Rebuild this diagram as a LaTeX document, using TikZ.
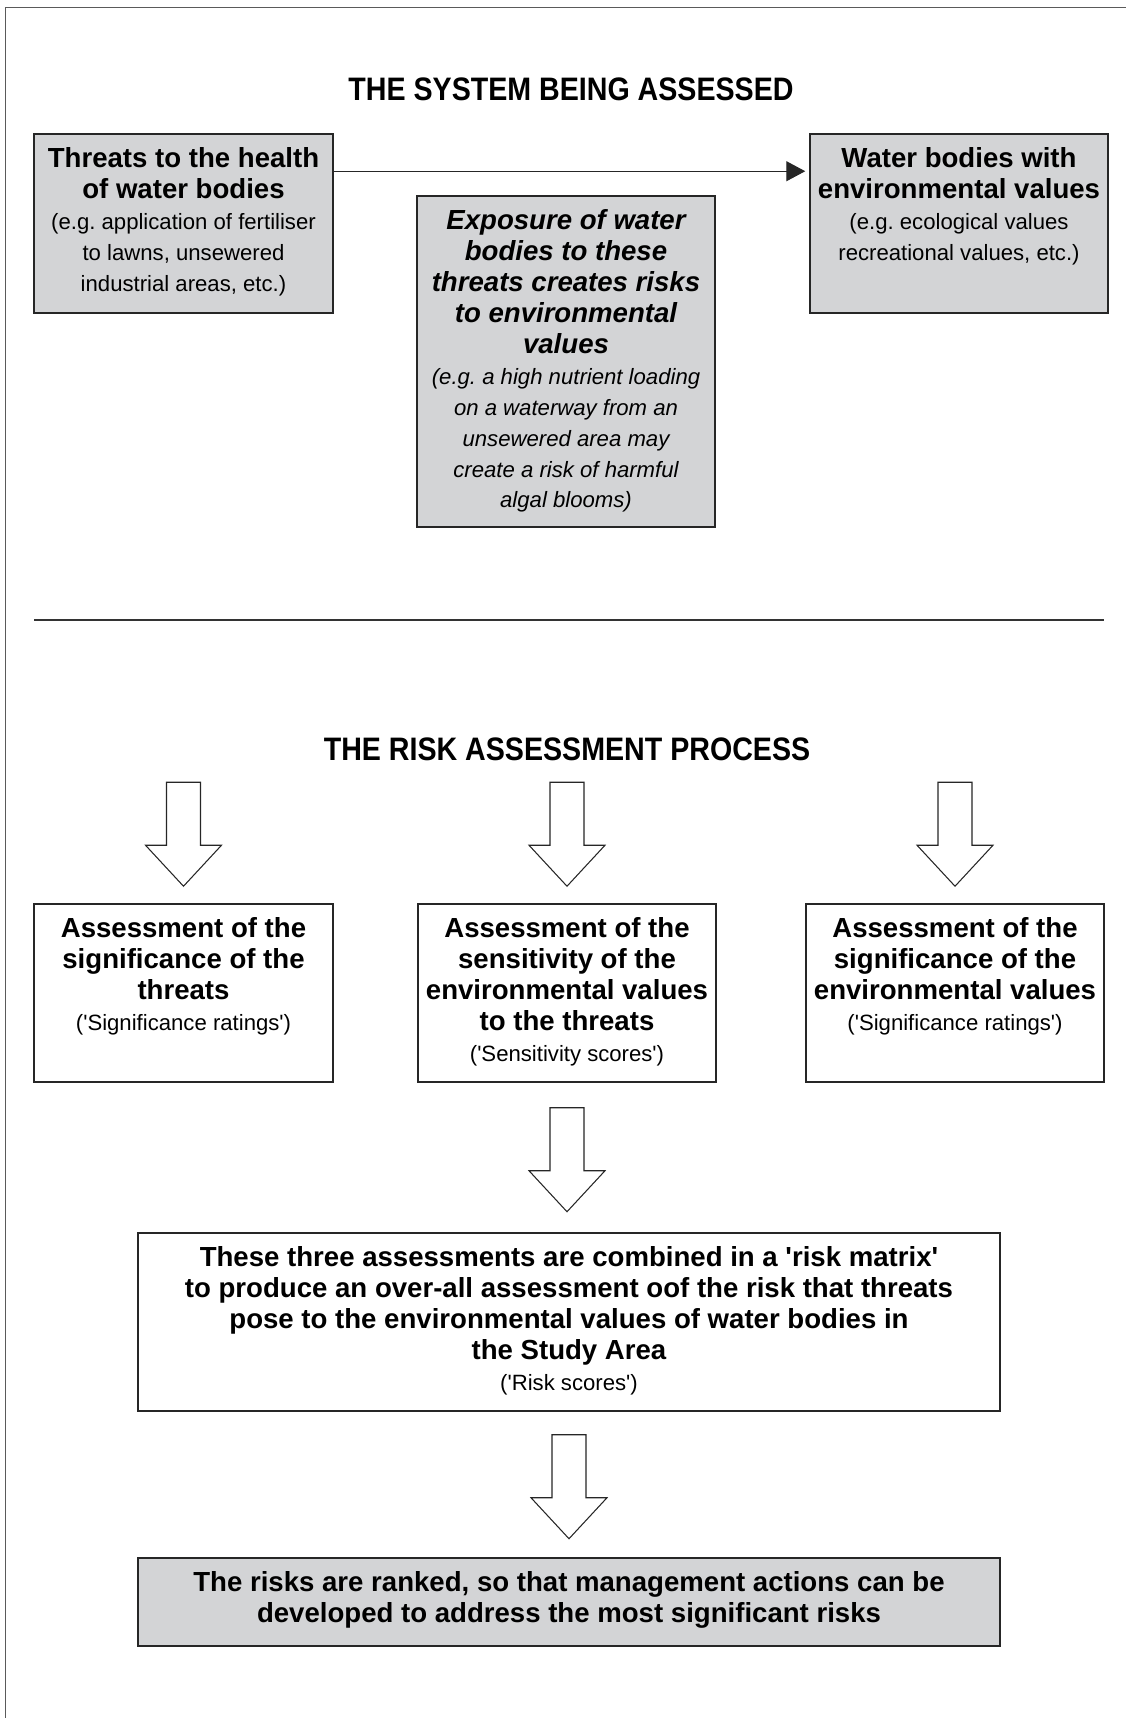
\documentclass[tikz,border=0pt]{standalone}
\usepackage{fontspec}
\setmainfont{Liberation Sans}[Ligatures=TeXOff]
\newfontfamily\headfont{Liberation Sans}[FakeStretch=0.88,Ligatures=TeXOff]
\usetikzlibrary{positioning,arrows.meta}
\frenchspacing

\definecolor{boxgray}{RGB}{211,212,214}
\definecolor{framegray}{RGB}{90,90,90}

\newcommand{\boxhead}[1]{{\fontsize{15.7}{17.6}\selectfont\bfseries #1}}
% hollow down arrow, #1 = top centre of the shaft
\newcommand{\blockarrow}[1]{%
  \draw[line width=0.6pt, draw=black!85, fill=white] #1 ++(-0.34,0) -- ++(0,-1.26) -- ++(-0.42,0)
    -- ++(0.76,-0.82) -- ++(0.76,0.82) -- ++(-0.42,0) -- ++(0,1.26) -- cycle;}

\tikzset{
  box/.style={draw=black!85, line width=0.85pt, fill=#1},
  box/.default=white,
  txt/.style={align=center, inner sep=0pt, font=\fontsize{12.6}{17.6}\selectfont},
  title/.style={inner sep=0pt, font=\headfont\fontsize{18.5}{22}\selectfont\bfseries}
}

\begin{document}
\begin{tikzpicture}
    \useasboundingbox (0,0) rectangle (22.52,34.36);

    % Frame (top and left edges only)
    \draw[framegray, line width=1.1pt] (0.11,0) -- (0.11,34.21) -- (22.52,34.21);

    % The system being assessed
    \node[title] (systitle) at (11.42,32.58) {THE SYSTEM BEING ASSESSED};

    \node[box=boxgray, minimum width=5.98cm, minimum height=3.58cm] (threats) at (3.67,29.89) {};
    \node[txt, below=0.28cm of threats.north] (threatstxt) {%
        \boxhead{Threats to the health}\\\boxhead{of water bodies}\\
        (e.g. application of fertiliser\\to lawns, unsewered\\industrial areas, etc.)};

    \node[box=boxgray, minimum width=5.96cm, minimum height=3.58cm] (water) at (19.18,29.89) {};
    \node[txt, below=0.28cm of water.north] (watertxt) {%
        \boxhead{Water bodies with}\\\boxhead{environmental values}\\
        (e.g. ecological values\\recreational values, etc.)};

    \node[box=boxgray, minimum width=5.96cm, minimum height=6.62cm] (exposure) at (11.32,27.13) {};
    \node[txt, font=\fontsize{12.6}{17.6}\selectfont\itshape, below=0.28cm of exposure.north] (exposuretxt) {%
        \boxhead{Exposure of water}\\\boxhead{bodies to these}\\\boxhead{threats creates risks}\\
        \boxhead{to environmental}\\\boxhead{values}\\
        (e.g. a high nutrient loading\\on a waterway from an\\unsewered area may\\
        create a risk of harmful\\algal blooms)};

    \draw[black!85, line width=0.7pt, -{Triangle[length=0.38cm,width=0.4cm]}, shorten >=0.08cm]
        ([yshift=-0.76cm]threats.north east) -- ([yshift=-0.76cm]water.north west);

    % Divider
    \draw[black!80, line width=0.9pt] (0.68,21.96) -- (22.08,21.96);

    % The risk assessment process
    \node[title] (risktitle) at (11.34,19.38) {THE RISK ASSESSMENT PROCESS};

    \node[box, minimum width=5.98cm, minimum height=3.56cm] (sigthreat) at (3.67,14.5) {};
    \node[txt, below=0.28cm of sigthreat.north] {%
        \boxhead{Assessment of the}\\\boxhead{significance of the}\\\boxhead{threats}\\
        ('Significance ratings')};

    \node[box, minimum width=5.96cm, minimum height=3.56cm] (sensit) at (11.34,14.5) {};
    \node[txt, below=0.28cm of sensit.north] {%
        \boxhead{Assessment of the}\\\boxhead{sensitivity of the}\\\boxhead{environmental values}\\
        \boxhead{to the threats}\\('Sensitivity scores')};

    \node[box, minimum width=5.96cm, minimum height=3.56cm] (sigvalue) at (19.1,14.5) {};
    \node[txt, below=0.28cm of sigvalue.north] {%
        \boxhead{Assessment of the}\\\boxhead{significance of the}\\\boxhead{environmental values}\\
        ('Significance ratings')};

    \foreach \n in {sigthreat,sensit,sigvalue} {
        \blockarrow{([yshift=2.42cm]\n.north)}
    }

    \node[box, minimum width=17.24cm, minimum height=3.56cm] (matrix) at (11.38,7.92) {};
    \node[txt, below=0.28cm of matrix.north] {%
        \boxhead{These three assessments are combined in a 'risk matrix'}\\
        \boxhead{to produce an over-all assessment oof the risk that threats}\\
        \boxhead{pose to the environmental values of water bodies in}\\
        \boxhead{the Study Area}\\('Risk scores')};

    \node[box=boxgray, minimum width=17.24cm, minimum height=1.76cm] (ranked) at (11.38,2.32) {};
    \node[txt, below=0.28cm of ranked.north] {%
        \boxhead{The risks are ranked, so that management actions can be}\\
        \boxhead{developed to address the most significant risks}};

    \blockarrow{([yshift=-0.5cm]sensit.south)}
    \blockarrow{([yshift=-0.46cm]matrix.south)}
\end{tikzpicture}
\end{document}
